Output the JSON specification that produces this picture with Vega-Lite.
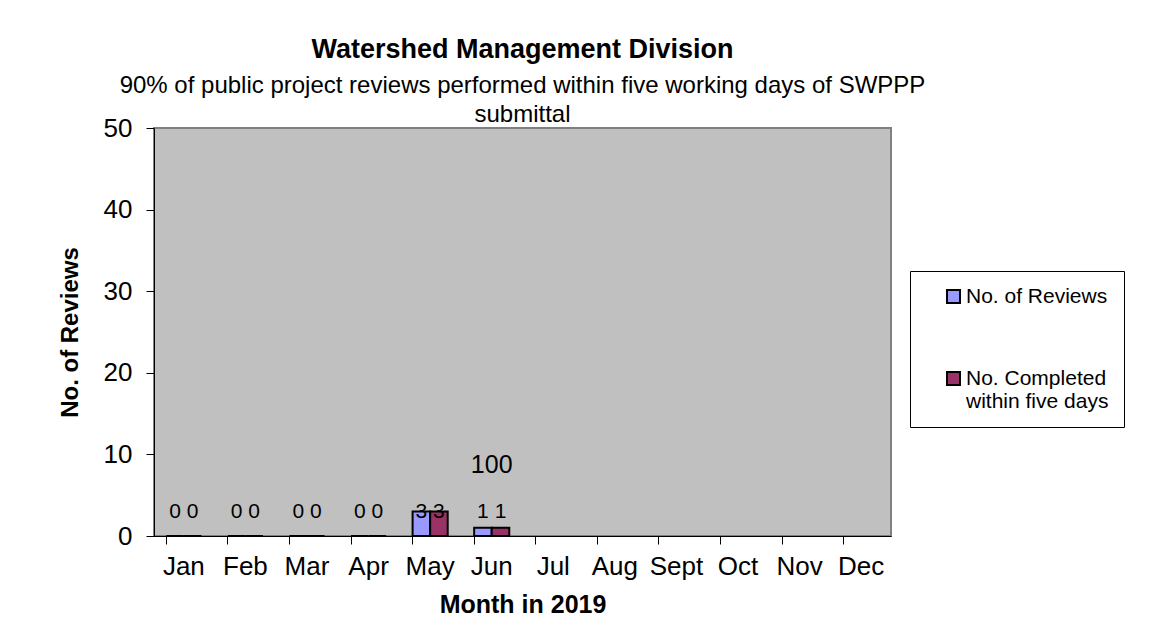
{
  "$schema": "https://vega.github.io/schema/vega-lite/v6.json",
  "autosize": {"type": "none"},
  "padding": {"left": 154, "top": 128, "right": 271, "bottom": 93},
  "width": 737,
  "height": 408,
  "background": "white",
  "title": {
    "text": "Watershed Management Division",
    "subtitle": ["90% of public project reviews performed within five working days of SWPPP", "submittal"],
    "font": "Liberation Sans",
    "fontSize": 27,
    "fontWeight": "bold",
    "color": "black",
    "subtitleFont": "Liberation Sans",
    "subtitleFontSize": 24,
    "subtitleLineHeight": 29,
    "subtitleColor": "black",
    "subtitlePadding": 10,
    "anchor": "middle",
    "offset": -13
  },
  "datasets": {
    "reviews": [
      {"month": "Jan", "series": "No. of Reviews", "value": 0},
      {"month": "Jan", "series": "No. Completed within five days", "value": 0},
      {"month": "Feb", "series": "No. of Reviews", "value": 0},
      {"month": "Feb", "series": "No. Completed within five days", "value": 0},
      {"month": "Mar", "series": "No. of Reviews", "value": 0},
      {"month": "Mar", "series": "No. Completed within five days", "value": 0},
      {"month": "Apr", "series": "No. of Reviews", "value": 0},
      {"month": "Apr", "series": "No. Completed within five days", "value": 0},
      {"month": "May", "series": "No. of Reviews", "value": 3},
      {"month": "May", "series": "No. Completed within five days", "value": 3},
      {"month": "Jun", "series": "No. of Reviews", "value": 1},
      {"month": "Jun", "series": "No. Completed within five days", "value": 1}
    ],
    "pct": [
      {"month": "Jun", "pct": 100}
    ]
  },
  "config": {
    "font": "Liberation Sans",
    "view": {"fill": "#C0C0C0", "stroke": "#808080", "strokeWidth": 2},
    "axis": {
      "labelFont": "Liberation Sans",
      "labelFontSize": 26,
      "labelColor": "black",
      "titleFont": "Liberation Sans",
      "titleFontSize": 25,
      "titleFontWeight": "bold",
      "titleColor": "black",
      "domainColor": "black",
      "domainWidth": 1,
      "tickColor": "black",
      "tickSize": 8,
      "grid": false
    }
  },
  "layer": [
    {
      "data": {"name": "reviews"},
      "mark": {"type": "bar", "stroke": "black", "strokeWidth": 2},
      "encoding": {
        "x": {
          "field": "month", "type": "nominal", "sort": null,
          "scale": {"domain": ["Jan","Feb","Mar","Apr","May","Jun","Jul","Aug","Sept","Oct","Nov","Dec"], "paddingInner": 0.43},
          "axis": {"title": "Month in 2019", "labelAngle": 0, "bandPosition": 0, "labelPadding": 9, "titlePadding": 13}
        },
        "xOffset": {
          "field": "series", "type": "nominal",
          "sort": ["No. of Reviews", "No. Completed within five days"],
          "scale": {"paddingInner": 0, "paddingOuter": 0}
        },
        "y": {
          "field": "value", "type": "quantitative",
          "scale": {"domain": [0, 50], "nice": false},
          "axis": {"title": "No. of Reviews", "titleFontSize": 24, "values": [0,10,20,30,40,50], "labelPadding": 14, "titlePadding": 21}
        },
        "color": {
          "field": "series", "type": "nominal",
          "sort": ["No. of Reviews", "No. Completed within five days"],
          "scale": {"domain": ["No. of Reviews", "No. Completed within five days"], "range": ["#9999FF", "#993366"]},
          "legend": {
            "title": null,
            "orient": "none",
            "legendX": 756,
            "legendY": 143,
            "direction": "vertical",
            "strokeColor": "black",
            "fillColor": "white",
            "padding": 15,
            "rowPadding": 60,
            "symbolOffset": 18,
            "symbolType": "square",
            "symbolSize": 169,
            "symbolStrokeColor": "black",
            "symbolStrokeWidth": 2,
            "symbolOpacity": 1,
            "labelFont": "Liberation Sans",
            "labelFontSize": 21,
            "labelColor": "black",
            "labelOffset": 2,
            "labelLimit": 300,
            "labelExpr": "datum.label == 'No. Completed within five days' ? ['No. Completed', 'within five days'] : datum.label"
          }
        }
      }
    },
    {
      "data": {"name": "reviews"},
      "mark": {"type": "text", "fontSize": 21, "color": "black", "baseline": "middle"},
      "encoding": {
        "x": {"field": "month", "type": "nominal", "sort": null},
        "xOffset": {"field": "series", "type": "nominal", "sort": ["No. of Reviews", "No. Completed within five days"]},
        "y": {"datum": 3},
        "text": {"field": "value", "type": "quantitative"}
      }
    },
    {
      "data": {"name": "pct"},
      "mark": {"type": "text", "fontSize": 25, "color": "black", "baseline": "middle"},
      "encoding": {
        "x": {"field": "month", "type": "nominal", "sort": null},
        "y": {"datum": 8.7},
        "text": {"field": "pct", "type": "quantitative"}
      }
    }
  ]
}
